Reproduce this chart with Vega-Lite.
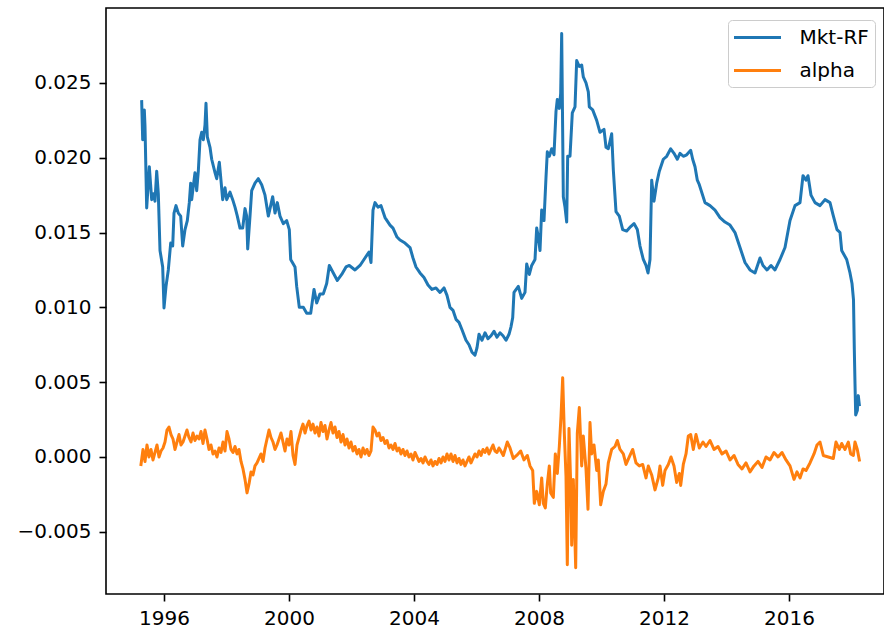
{
"$schema":"https://vega.github.io/schema/vega-lite/v6.json",
"width":778,"height":586,
"autosize":{"type":"none"},
"padding":{"left":106,"top":8,"right":0,"bottom":41},
"background":"white",
"config":{"view":{"stroke":"black","strokeWidth":1.6},"font":"DejaVu Sans"},
"data":{"values":[
{"date":1995.286,"value":0.02375,"series":"Mkt-RF"},
{"date":1995.318,"value":0.0212,"series":"Mkt-RF"},
{"date":1995.37,"value":0.0232,"series":"Mkt-RF"},
{"date":1995.392,"value":0.0221,"series":"Mkt-RF"},
{"date":1995.446,"value":0.01664,"series":"Mkt-RF"},
{"date":1995.53,"value":0.0194,"series":"Mkt-RF"},
{"date":1995.606,"value":0.0172,"series":"Mkt-RF"},
{"date":1995.658,"value":0.0176,"series":"Mkt-RF"},
{"date":1995.712,"value":0.0171,"series":"Mkt-RF"},
{"date":1995.766,"value":0.0191,"series":"Mkt-RF"},
{"date":1995.818,"value":0.0176,"series":"Mkt-RF"},
{"date":1995.872,"value":0.0138,"series":"Mkt-RF"},
{"date":1995.958,"value":0.0127,"series":"Mkt-RF"},
{"date":1996.0,"value":0.00996,"series":"Mkt-RF"},
{"date":1996.064,"value":0.0114,"series":"Mkt-RF"},
{"date":1996.138,"value":0.0125,"series":"Mkt-RF"},
{"date":1996.214,"value":0.0143,"series":"Mkt-RF"},
{"date":1996.278,"value":0.0141,"series":"Mkt-RF"},
{"date":1996.32,"value":0.0163,"series":"Mkt-RF"},
{"date":1996.384,"value":0.0168,"series":"Mkt-RF"},
{"date":1996.458,"value":0.0163,"series":"Mkt-RF"},
{"date":1996.534,"value":0.0161,"series":"Mkt-RF"},
{"date":1996.598,"value":0.0141,"series":"Mkt-RF"},
{"date":1996.672,"value":0.0152,"series":"Mkt-RF"},
{"date":1996.746,"value":0.0158,"series":"Mkt-RF"},
{"date":1996.81,"value":0.017,"series":"Mkt-RF"},
{"date":1996.854,"value":0.0183,"series":"Mkt-RF"},
{"date":1996.886,"value":0.0172,"series":"Mkt-RF"},
{"date":1996.938,"value":0.0181,"series":"Mkt-RF"},
{"date":1996.992,"value":0.019,"series":"Mkt-RF"},
{"date":1997.046,"value":0.0178,"series":"Mkt-RF"},
{"date":1997.098,"value":0.0191,"series":"Mkt-RF"},
{"date":1997.152,"value":0.0212,"series":"Mkt-RF"},
{"date":1997.206,"value":0.0217,"series":"Mkt-RF"},
{"date":1997.258,"value":0.0212,"series":"Mkt-RF"},
{"date":1997.312,"value":0.0222,"series":"Mkt-RF"},
{"date":1997.344,"value":0.02364,"series":"Mkt-RF"},
{"date":1997.386,"value":0.0214,"series":"Mkt-RF"},
{"date":1997.472,"value":0.0207,"series":"Mkt-RF"},
{"date":1997.526,"value":0.0199,"series":"Mkt-RF"},
{"date":1997.632,"value":0.019,"series":"Mkt-RF"},
{"date":1997.686,"value":0.0186,"series":"Mkt-RF"},
{"date":1997.77,"value":0.0197,"series":"Mkt-RF"},
{"date":1997.814,"value":0.0187,"series":"Mkt-RF"},
{"date":1997.878,"value":0.0172,"series":"Mkt-RF"},
{"date":1997.952,"value":0.018,"series":"Mkt-RF"},
{"date":1998.006,"value":0.0172,"series":"Mkt-RF"},
{"date":1998.112,"value":0.0177,"series":"Mkt-RF"},
{"date":1998.198,"value":0.0172,"series":"Mkt-RF"},
{"date":1998.272,"value":0.0167,"series":"Mkt-RF"},
{"date":1998.346,"value":0.0161,"series":"Mkt-RF"},
{"date":1998.432,"value":0.0153,"series":"Mkt-RF"},
{"date":1998.518,"value":0.0153,"series":"Mkt-RF"},
{"date":1998.592,"value":0.0166,"series":"Mkt-RF"},
{"date":1998.646,"value":0.0161,"series":"Mkt-RF"},
{"date":1998.678,"value":0.0139,"series":"Mkt-RF"},
{"date":1998.752,"value":0.0161,"series":"Mkt-RF"},
{"date":1998.806,"value":0.0178,"series":"Mkt-RF"},
{"date":1998.912,"value":0.0183,"series":"Mkt-RF"},
{"date":1999.018,"value":0.0186,"series":"Mkt-RF"},
{"date":1999.126,"value":0.0182,"series":"Mkt-RF"},
{"date":1999.232,"value":0.0175,"series":"Mkt-RF"},
{"date":1999.338,"value":0.0161,"series":"Mkt-RF"},
{"date":1999.392,"value":0.0166,"series":"Mkt-RF"},
{"date":1999.478,"value":0.0174,"series":"Mkt-RF"},
{"date":1999.552,"value":0.0163,"series":"Mkt-RF"},
{"date":1999.626,"value":0.017,"series":"Mkt-RF"},
{"date":1999.712,"value":0.0161,"series":"Mkt-RF"},
{"date":1999.818,"value":0.0156,"series":"Mkt-RF"},
{"date":1999.926,"value":0.0158,"series":"Mkt-RF"},
{"date":2000.01,"value":0.0152,"series":"Mkt-RF"},
{"date":2000.054,"value":0.0132,"series":"Mkt-RF"},
{"date":2000.192,"value":0.0127,"series":"Mkt-RF"},
{"date":2000.246,"value":0.0114,"series":"Mkt-RF"},
{"date":2000.33,"value":0.01,"series":"Mkt-RF"},
{"date":2000.458,"value":0.01,"series":"Mkt-RF"},
{"date":2000.566,"value":0.0096,"series":"Mkt-RF"},
{"date":2000.694,"value":0.0096,"series":"Mkt-RF"},
{"date":2000.8,"value":0.0112,"series":"Mkt-RF"},
{"date":2000.886,"value":0.0103,"series":"Mkt-RF"},
{"date":2000.992,"value":0.0109,"series":"Mkt-RF"},
{"date":2001.098,"value":0.0109,"series":"Mkt-RF"},
{"date":2001.206,"value":0.0116,"series":"Mkt-RF"},
{"date":2001.29,"value":0.0128,"series":"Mkt-RF"},
{"date":2001.418,"value":0.0123,"series":"Mkt-RF"},
{"date":2001.546,"value":0.0118,"series":"Mkt-RF"},
{"date":2001.686,"value":0.0122,"series":"Mkt-RF"},
{"date":2001.824,"value":0.0127,"series":"Mkt-RF"},
{"date":2001.93,"value":0.0128,"series":"Mkt-RF"},
{"date":2002.112,"value":0.0125,"series":"Mkt-RF"},
{"date":2002.272,"value":0.0128,"series":"Mkt-RF"},
{"date":2002.432,"value":0.0133,"series":"Mkt-RF"},
{"date":2002.56,"value":0.0137,"series":"Mkt-RF"},
{"date":2002.624,"value":0.013,"series":"Mkt-RF"},
{"date":2002.688,"value":0.0165,"series":"Mkt-RF"},
{"date":2002.752,"value":0.017,"series":"Mkt-RF"},
{"date":2002.848,"value":0.0167,"series":"Mkt-RF"},
{"date":2002.944,"value":0.0168,"series":"Mkt-RF"},
{"date":2003.072,"value":0.016,"series":"Mkt-RF"},
{"date":2003.232,"value":0.0155,"series":"Mkt-RF"},
{"date":2003.328,"value":0.0153,"series":"Mkt-RF"},
{"date":2003.456,"value":0.0147,"series":"Mkt-RF"},
{"date":2003.552,"value":0.0145,"series":"Mkt-RF"},
{"date":2003.712,"value":0.0143,"series":"Mkt-RF"},
{"date":2003.872,"value":0.014,"series":"Mkt-RF"},
{"date":2003.968,"value":0.0133,"series":"Mkt-RF"},
{"date":2004.064,"value":0.0127,"series":"Mkt-RF"},
{"date":2004.192,"value":0.0123,"series":"Mkt-RF"},
{"date":2004.32,"value":0.012,"series":"Mkt-RF"},
{"date":2004.448,"value":0.0115,"series":"Mkt-RF"},
{"date":2004.576,"value":0.0112,"series":"Mkt-RF"},
{"date":2004.704,"value":0.0113,"series":"Mkt-RF"},
{"date":2004.832,"value":0.011,"series":"Mkt-RF"},
{"date":2004.96,"value":0.0113,"series":"Mkt-RF"},
{"date":2005.056,"value":0.0108,"series":"Mkt-RF"},
{"date":2005.152,"value":0.01,"series":"Mkt-RF"},
{"date":2005.248,"value":0.0098,"series":"Mkt-RF"},
{"date":2005.344,"value":0.0092,"series":"Mkt-RF"},
{"date":2005.44,"value":0.009,"series":"Mkt-RF"},
{"date":2005.536,"value":0.0085,"series":"Mkt-RF"},
{"date":2005.664,"value":0.0078,"series":"Mkt-RF"},
{"date":2005.76,"value":0.0075,"series":"Mkt-RF"},
{"date":2005.856,"value":0.007,"series":"Mkt-RF"},
{"date":2005.952,"value":0.0068,"series":"Mkt-RF"},
{"date":2006.016,"value":0.0073,"series":"Mkt-RF"},
{"date":2006.08,"value":0.0082,"series":"Mkt-RF"},
{"date":2006.176,"value":0.0078,"series":"Mkt-RF"},
{"date":2006.272,"value":0.0083,"series":"Mkt-RF"},
{"date":2006.368,"value":0.0079,"series":"Mkt-RF"},
{"date":2006.464,"value":0.0081,"series":"Mkt-RF"},
{"date":2006.56,"value":0.0084,"series":"Mkt-RF"},
{"date":2006.656,"value":0.008,"series":"Mkt-RF"},
{"date":2006.752,"value":0.0083,"series":"Mkt-RF"},
{"date":2006.848,"value":0.0081,"series":"Mkt-RF"},
{"date":2006.944,"value":0.0078,"series":"Mkt-RF"},
{"date":2007.04,"value":0.0082,"series":"Mkt-RF"},
{"date":2007.104,"value":0.0087,"series":"Mkt-RF"},
{"date":2007.158,"value":0.0093,"series":"Mkt-RF"},
{"date":2007.2,"value":0.011,"series":"Mkt-RF"},
{"date":2007.338,"value":0.0114,"series":"Mkt-RF"},
{"date":2007.446,"value":0.0106,"series":"Mkt-RF"},
{"date":2007.552,"value":0.011,"series":"Mkt-RF"},
{"date":2007.606,"value":0.0129,"series":"Mkt-RF"},
{"date":2007.69,"value":0.0122,"series":"Mkt-RF"},
{"date":2007.766,"value":0.0128,"series":"Mkt-RF"},
{"date":2007.872,"value":0.0132,"series":"Mkt-RF"},
{"date":2007.926,"value":0.0153,"series":"Mkt-RF"},
{"date":2007.978,"value":0.0147,"series":"Mkt-RF"},
{"date":2008.032,"value":0.0138,"series":"Mkt-RF"},
{"date":2008.086,"value":0.0165,"series":"Mkt-RF"},
{"date":2008.16,"value":0.0158,"series":"Mkt-RF"},
{"date":2008.224,"value":0.0187,"series":"Mkt-RF"},
{"date":2008.266,"value":0.0204,"series":"Mkt-RF"},
{"date":2008.33,"value":0.0201,"series":"Mkt-RF"},
{"date":2008.406,"value":0.0206,"series":"Mkt-RF"},
{"date":2008.48,"value":0.0202,"series":"Mkt-RF"},
{"date":2008.544,"value":0.0231,"series":"Mkt-RF"},
{"date":2008.586,"value":0.0239,"series":"Mkt-RF"},
{"date":2008.65,"value":0.0233,"series":"Mkt-RF"},
{"date":2008.694,"value":0.0243,"series":"Mkt-RF"},
{"date":2008.726,"value":0.0283,"series":"Mkt-RF"},
{"date":2008.778,"value":0.0174,"series":"Mkt-RF"},
{"date":2008.832,"value":0.0167,"series":"Mkt-RF"},
{"date":2008.886,"value":0.0157,"series":"Mkt-RF"},
{"date":2008.918,"value":0.0201,"series":"Mkt-RF"},
{"date":2008.992,"value":0.0201,"series":"Mkt-RF"},
{"date":2009.066,"value":0.023,"series":"Mkt-RF"},
{"date":2009.152,"value":0.0234,"series":"Mkt-RF"},
{"date":2009.206,"value":0.0265,"series":"Mkt-RF"},
{"date":2009.29,"value":0.0261,"series":"Mkt-RF"},
{"date":2009.366,"value":0.0262,"series":"Mkt-RF"},
{"date":2009.418,"value":0.0254,"series":"Mkt-RF"},
{"date":2009.504,"value":0.025,"series":"Mkt-RF"},
{"date":2009.578,"value":0.0244,"series":"Mkt-RF"},
{"date":2009.61,"value":0.0234,"series":"Mkt-RF"},
{"date":2009.718,"value":0.0232,"series":"Mkt-RF"},
{"date":2009.846,"value":0.0225,"series":"Mkt-RF"},
{"date":2009.952,"value":0.0217,"series":"Mkt-RF"},
{"date":2010.08,"value":0.0219,"series":"Mkt-RF"},
{"date":2010.144,"value":0.0207,"series":"Mkt-RF"},
{"date":2010.218,"value":0.0206,"series":"Mkt-RF"},
{"date":2010.326,"value":0.0216,"series":"Mkt-RF"},
{"date":2010.378,"value":0.0192,"series":"Mkt-RF"},
{"date":2010.464,"value":0.0164,"series":"Mkt-RF"},
{"date":2010.57,"value":0.0161,"series":"Mkt-RF"},
{"date":2010.678,"value":0.0152,"series":"Mkt-RF"},
{"date":2010.806,"value":0.0151,"series":"Mkt-RF"},
{"date":2010.934,"value":0.0154,"series":"Mkt-RF"},
{"date":2011.04,"value":0.0156,"series":"Mkt-RF"},
{"date":2011.146,"value":0.0152,"series":"Mkt-RF"},
{"date":2011.232,"value":0.0141,"series":"Mkt-RF"},
{"date":2011.338,"value":0.0132,"series":"Mkt-RF"},
{"date":2011.424,"value":0.0128,"series":"Mkt-RF"},
{"date":2011.488,"value":0.0123,"series":"Mkt-RF"},
{"date":2011.552,"value":0.0132,"series":"Mkt-RF"},
{"date":2011.606,"value":0.0185,"series":"Mkt-RF"},
{"date":2011.68,"value":0.0171,"series":"Mkt-RF"},
{"date":2011.766,"value":0.0183,"series":"Mkt-RF"},
{"date":2011.85,"value":0.0191,"series":"Mkt-RF"},
{"date":2011.978,"value":0.0199,"series":"Mkt-RF"},
{"date":2012.086,"value":0.0201,"series":"Mkt-RF"},
{"date":2012.214,"value":0.0206,"series":"Mkt-RF"},
{"date":2012.32,"value":0.0203,"series":"Mkt-RF"},
{"date":2012.426,"value":0.0199,"series":"Mkt-RF"},
{"date":2012.512,"value":0.0203,"series":"Mkt-RF"},
{"date":2012.618,"value":0.0201,"series":"Mkt-RF"},
{"date":2012.726,"value":0.0202,"series":"Mkt-RF"},
{"date":2012.854,"value":0.0205,"series":"Mkt-RF"},
{"date":2012.918,"value":0.0199,"series":"Mkt-RF"},
{"date":2012.992,"value":0.0194,"series":"Mkt-RF"},
{"date":2013.066,"value":0.0185,"series":"Mkt-RF"},
{"date":2013.13,"value":0.0182,"series":"Mkt-RF"},
{"date":2013.312,"value":0.017,"series":"Mkt-RF"},
{"date":2013.472,"value":0.0168,"series":"Mkt-RF"},
{"date":2013.632,"value":0.0165,"series":"Mkt-RF"},
{"date":2013.792,"value":0.016,"series":"Mkt-RF"},
{"date":2013.952,"value":0.0157,"series":"Mkt-RF"},
{"date":2014.112,"value":0.0155,"series":"Mkt-RF"},
{"date":2014.272,"value":0.015,"series":"Mkt-RF"},
{"date":2014.432,"value":0.014,"series":"Mkt-RF"},
{"date":2014.592,"value":0.013,"series":"Mkt-RF"},
{"date":2014.752,"value":0.0125,"series":"Mkt-RF"},
{"date":2014.912,"value":0.0123,"series":"Mkt-RF"},
{"date":2015.072,"value":0.0133,"series":"Mkt-RF"},
{"date":2015.168,"value":0.0128,"series":"Mkt-RF"},
{"date":2015.296,"value":0.0125,"series":"Mkt-RF"},
{"date":2015.424,"value":0.0128,"series":"Mkt-RF"},
{"date":2015.552,"value":0.0125,"series":"Mkt-RF"},
{"date":2015.712,"value":0.0132,"series":"Mkt-RF"},
{"date":2015.872,"value":0.014,"series":"Mkt-RF"},
{"date":2016.032,"value":0.0158,"series":"Mkt-RF"},
{"date":2016.192,"value":0.0168,"series":"Mkt-RF"},
{"date":2016.352,"value":0.017,"series":"Mkt-RF"},
{"date":2016.448,"value":0.0188,"series":"Mkt-RF"},
{"date":2016.544,"value":0.0185,"series":"Mkt-RF"},
{"date":2016.608,"value":0.0188,"series":"Mkt-RF"},
{"date":2016.704,"value":0.0175,"series":"Mkt-RF"},
{"date":2016.832,"value":0.017,"series":"Mkt-RF"},
{"date":2016.992,"value":0.0168,"series":"Mkt-RF"},
{"date":2017.152,"value":0.0172,"series":"Mkt-RF"},
{"date":2017.312,"value":0.017,"series":"Mkt-RF"},
{"date":2017.408,"value":0.0162,"series":"Mkt-RF"},
{"date":2017.536,"value":0.0152,"series":"Mkt-RF"},
{"date":2017.632,"value":0.015,"series":"Mkt-RF"},
{"date":2017.686,"value":0.0138,"series":"Mkt-RF"},
{"date":2017.846,"value":0.0132,"series":"Mkt-RF"},
{"date":2017.952,"value":0.0123,"series":"Mkt-RF"},
{"date":2018.016,"value":0.0116,"series":"Mkt-RF"},
{"date":2018.064,"value":0.0105,"series":"Mkt-RF"},
{"date":2018.09,"value":0.0072,"series":"Mkt-RF"},
{"date":2018.112,"value":0.0049,"series":"Mkt-RF"},
{"date":2018.134,"value":0.0028,"series":"Mkt-RF"},
{"date":2018.186,"value":0.0031,"series":"Mkt-RF"},
{"date":2018.218,"value":0.0041,"series":"Mkt-RF"},
{"date":2018.25,"value":0.0035,"series":"Mkt-RF"},
{"date":1995.264,"value":-0.0005,"series":"alpha"},
{"date":1995.328,"value":0.0005,"series":"alpha"},
{"date":1995.392,"value":-0.0003,"series":"alpha"},
{"date":1995.456,"value":0.0008,"series":"alpha"},
{"date":1995.52,"value":0.0,"series":"alpha"},
{"date":1995.584,"value":0.0005,"series":"alpha"},
{"date":1995.648,"value":-0.0002,"series":"alpha"},
{"date":1995.712,"value":0.0003,"series":"alpha"},
{"date":1995.776,"value":0.0008,"series":"alpha"},
{"date":1995.84,"value":0.0,"series":"alpha"},
{"date":1995.904,"value":0.0004,"series":"alpha"},
{"date":1995.968,"value":0.0006,"series":"alpha"},
{"date":1996.032,"value":0.001,"series":"alpha"},
{"date":1996.096,"value":0.0018,"series":"alpha"},
{"date":1996.16,"value":0.002,"series":"alpha"},
{"date":1996.224,"value":0.0015,"series":"alpha"},
{"date":1996.288,"value":0.0012,"series":"alpha"},
{"date":1996.352,"value":0.0005,"series":"alpha"},
{"date":1996.416,"value":0.001,"series":"alpha"},
{"date":1996.48,"value":0.0015,"series":"alpha"},
{"date":1996.544,"value":0.0008,"series":"alpha"},
{"date":1996.608,"value":0.001,"series":"alpha"},
{"date":1996.672,"value":0.0014,"series":"alpha"},
{"date":1996.736,"value":0.0018,"series":"alpha"},
{"date":1996.8,"value":0.0013,"series":"alpha"},
{"date":1996.864,"value":0.001,"series":"alpha"},
{"date":1996.928,"value":0.0016,"series":"alpha"},
{"date":1996.992,"value":0.0011,"series":"alpha"},
{"date":1997.056,"value":0.0014,"series":"alpha"},
{"date":1997.12,"value":0.0012,"series":"alpha"},
{"date":1997.184,"value":0.0017,"series":"alpha"},
{"date":1997.248,"value":0.0009,"series":"alpha"},
{"date":1997.312,"value":0.0018,"series":"alpha"},
{"date":1997.376,"value":0.0012,"series":"alpha"},
{"date":1997.44,"value":0.0005,"series":"alpha"},
{"date":1997.504,"value":0.0008,"series":"alpha"},
{"date":1997.568,"value":0.0002,"series":"alpha"},
{"date":1997.632,"value":0.0004,"series":"alpha"},
{"date":1997.696,"value":0.0,"series":"alpha"},
{"date":1997.76,"value":0.0006,"series":"alpha"},
{"date":1997.824,"value":0.0003,"series":"alpha"},
{"date":1997.888,"value":0.001,"series":"alpha"},
{"date":1997.952,"value":0.0004,"series":"alpha"},
{"date":1998.016,"value":0.0017,"series":"alpha"},
{"date":1998.08,"value":0.0012,"series":"alpha"},
{"date":1998.144,"value":0.0005,"series":"alpha"},
{"date":1998.208,"value":0.0003,"series":"alpha"},
{"date":1998.272,"value":0.0007,"series":"alpha"},
{"date":1998.336,"value":0.0002,"series":"alpha"},
{"date":1998.4,"value":0.0005,"series":"alpha"},
{"date":1998.464,"value":-0.0003,"series":"alpha"},
{"date":1998.528,"value":-0.0008,"series":"alpha"},
{"date":1998.592,"value":-0.0015,"series":"alpha"},
{"date":1998.656,"value":-0.0024,"series":"alpha"},
{"date":1998.72,"value":-0.0018,"series":"alpha"},
{"date":1998.784,"value":-0.001,"series":"alpha"},
{"date":1998.848,"value":-0.0012,"series":"alpha"},
{"date":1998.912,"value":-0.0006,"series":"alpha"},
{"date":1998.976,"value":-0.0004,"series":"alpha"},
{"date":1999.04,"value":-0.0001,"series":"alpha"},
{"date":1999.104,"value":0.0002,"series":"alpha"},
{"date":1999.168,"value":-0.0003,"series":"alpha"},
{"date":1999.232,"value":0.0006,"series":"alpha"},
{"date":1999.296,"value":0.0012,"series":"alpha"},
{"date":1999.36,"value":0.0018,"series":"alpha"},
{"date":1999.424,"value":0.0013,"series":"alpha"},
{"date":1999.488,"value":0.001,"series":"alpha"},
{"date":1999.552,"value":0.0005,"series":"alpha"},
{"date":1999.616,"value":0.0008,"series":"alpha"},
{"date":1999.68,"value":0.0012,"series":"alpha"},
{"date":1999.744,"value":0.0016,"series":"alpha"},
{"date":1999.808,"value":0.001,"series":"alpha"},
{"date":1999.872,"value":0.0004,"series":"alpha"},
{"date":1999.936,"value":0.0012,"series":"alpha"},
{"date":2000.0,"value":0.0008,"series":"alpha"},
{"date":2000.064,"value":0.0017,"series":"alpha"},
{"date":2000.128,"value":0.0001,"series":"alpha"},
{"date":2000.192,"value":-0.0005,"series":"alpha"},
{"date":2000.256,"value":0.0008,"series":"alpha"},
{"date":2000.32,"value":0.0013,"series":"alpha"},
{"date":2000.384,"value":0.0018,"series":"alpha"},
{"date":2000.448,"value":0.0022,"series":"alpha"},
{"date":2000.512,"value":0.0016,"series":"alpha"},
{"date":2000.576,"value":0.0021,"series":"alpha"},
{"date":2000.64,"value":0.0024,"series":"alpha"},
{"date":2000.704,"value":0.0018,"series":"alpha"},
{"date":2000.768,"value":0.0022,"series":"alpha"},
{"date":2000.832,"value":0.0016,"series":"alpha"},
{"date":2000.896,"value":0.002,"series":"alpha"},
{"date":2000.96,"value":0.0014,"series":"alpha"},
{"date":2001.024,"value":0.0023,"series":"alpha"},
{"date":2001.088,"value":0.0017,"series":"alpha"},
{"date":2001.152,"value":0.0021,"series":"alpha"},
{"date":2001.216,"value":0.0012,"series":"alpha"},
{"date":2001.28,"value":0.0018,"series":"alpha"},
{"date":2001.344,"value":0.0023,"series":"alpha"},
{"date":2001.408,"value":0.0016,"series":"alpha"},
{"date":2001.472,"value":0.002,"series":"alpha"},
{"date":2001.536,"value":0.0013,"series":"alpha"},
{"date":2001.6,"value":0.0017,"series":"alpha"},
{"date":2001.664,"value":0.001,"series":"alpha"},
{"date":2001.728,"value":0.0015,"series":"alpha"},
{"date":2001.792,"value":0.0008,"series":"alpha"},
{"date":2001.856,"value":0.0012,"series":"alpha"},
{"date":2001.92,"value":0.0006,"series":"alpha"},
{"date":2001.984,"value":0.001,"series":"alpha"},
{"date":2002.048,"value":0.0004,"series":"alpha"},
{"date":2002.112,"value":0.0007,"series":"alpha"},
{"date":2002.176,"value":0.0002,"series":"alpha"},
{"date":2002.24,"value":0.0005,"series":"alpha"},
{"date":2002.304,"value":0.0,"series":"alpha"},
{"date":2002.368,"value":0.0006,"series":"alpha"},
{"date":2002.432,"value":0.0002,"series":"alpha"},
{"date":2002.496,"value":0.0005,"series":"alpha"},
{"date":2002.56,"value":0.0001,"series":"alpha"},
{"date":2002.624,"value":0.0004,"series":"alpha"},
{"date":2002.688,"value":0.002,"series":"alpha"},
{"date":2002.752,"value":0.0018,"series":"alpha"},
{"date":2002.816,"value":0.0014,"series":"alpha"},
{"date":2002.88,"value":0.0016,"series":"alpha"},
{"date":2002.944,"value":0.0011,"series":"alpha"},
{"date":2003.008,"value":0.0013,"series":"alpha"},
{"date":2003.072,"value":0.0009,"series":"alpha"},
{"date":2003.136,"value":0.0011,"series":"alpha"},
{"date":2003.2,"value":0.0006,"series":"alpha"},
{"date":2003.264,"value":0.0008,"series":"alpha"},
{"date":2003.328,"value":0.0005,"series":"alpha"},
{"date":2003.392,"value":0.0009,"series":"alpha"},
{"date":2003.456,"value":0.0004,"series":"alpha"},
{"date":2003.52,"value":0.0006,"series":"alpha"},
{"date":2003.584,"value":0.0002,"series":"alpha"},
{"date":2003.648,"value":0.0005,"series":"alpha"},
{"date":2003.712,"value":0.0001,"series":"alpha"},
{"date":2003.776,"value":0.0004,"series":"alpha"},
{"date":2003.84,"value":0.0,"series":"alpha"},
{"date":2003.904,"value":0.0002,"series":"alpha"},
{"date":2003.968,"value":-0.0002,"series":"alpha"},
{"date":2004.032,"value":0.0003,"series":"alpha"},
{"date":2004.096,"value":0.0,"series":"alpha"},
{"date":2004.16,"value":-0.0003,"series":"alpha"},
{"date":2004.224,"value":-0.0001,"series":"alpha"},
{"date":2004.288,"value":-0.0004,"series":"alpha"},
{"date":2004.352,"value":0.0,"series":"alpha"},
{"date":2004.416,"value":-0.0003,"series":"alpha"},
{"date":2004.48,"value":-0.0005,"series":"alpha"},
{"date":2004.544,"value":-0.0002,"series":"alpha"},
{"date":2004.608,"value":-0.0006,"series":"alpha"},
{"date":2004.672,"value":-0.0003,"series":"alpha"},
{"date":2004.736,"value":-0.0005,"series":"alpha"},
{"date":2004.8,"value":-0.0001,"series":"alpha"},
{"date":2004.864,"value":-0.0004,"series":"alpha"},
{"date":2004.928,"value":0.0,"series":"alpha"},
{"date":2004.992,"value":-0.0003,"series":"alpha"},
{"date":2005.056,"value":0.0002,"series":"alpha"},
{"date":2005.12,"value":-0.0002,"series":"alpha"},
{"date":2005.184,"value":0.0002,"series":"alpha"},
{"date":2005.248,"value":-0.0003,"series":"alpha"},
{"date":2005.312,"value":0.0001,"series":"alpha"},
{"date":2005.376,"value":-0.0004,"series":"alpha"},
{"date":2005.44,"value":-0.0001,"series":"alpha"},
{"date":2005.504,"value":-0.0005,"series":"alpha"},
{"date":2005.568,"value":-0.0002,"series":"alpha"},
{"date":2005.632,"value":-0.0006,"series":"alpha"},
{"date":2005.696,"value":-0.0003,"series":"alpha"},
{"date":2005.76,"value":0.0,"series":"alpha"},
{"date":2005.824,"value":-0.0004,"series":"alpha"},
{"date":2005.888,"value":-0.0001,"series":"alpha"},
{"date":2005.952,"value":0.0002,"series":"alpha"},
{"date":2006.016,"value":0.0,"series":"alpha"},
{"date":2006.08,"value":0.0004,"series":"alpha"},
{"date":2006.144,"value":0.0001,"series":"alpha"},
{"date":2006.208,"value":0.0005,"series":"alpha"},
{"date":2006.272,"value":0.0003,"series":"alpha"},
{"date":2006.336,"value":0.0006,"series":"alpha"},
{"date":2006.4,"value":0.0002,"series":"alpha"},
{"date":2006.464,"value":0.0005,"series":"alpha"},
{"date":2006.528,"value":0.0008,"series":"alpha"},
{"date":2006.592,"value":0.0004,"series":"alpha"},
{"date":2006.656,"value":0.0003,"series":"alpha"},
{"date":2006.72,"value":0.0006,"series":"alpha"},
{"date":2006.752,"value":0.0005,"series":"alpha"},
{"date":2006.858,"value":0.0001,"series":"alpha"},
{"date":2006.986,"value":0.001,"series":"alpha"},
{"date":2007.072,"value":0.0006,"series":"alpha"},
{"date":2007.178,"value":-0.0001,"series":"alpha"},
{"date":2007.286,"value":0.0001,"series":"alpha"},
{"date":2007.414,"value":0.0004,"series":"alpha"},
{"date":2007.52,"value":-0.0002,"series":"alpha"},
{"date":2007.626,"value":0.0001,"series":"alpha"},
{"date":2007.712,"value":-0.0006,"series":"alpha"},
{"date":2007.798,"value":-0.0009,"series":"alpha"},
{"date":2007.85,"value":-0.0031,"series":"alpha"},
{"date":2007.926,"value":-0.0023,"series":"alpha"},
{"date":2008.01,"value":-0.0032,"series":"alpha"},
{"date":2008.086,"value":-0.0014,"series":"alpha"},
{"date":2008.138,"value":-0.0031,"series":"alpha"},
{"date":2008.202,"value":-0.0034,"series":"alpha"},
{"date":2008.266,"value":-0.0018,"series":"alpha"},
{"date":2008.33,"value":-0.0006,"series":"alpha"},
{"date":2008.374,"value":-0.0024,"series":"alpha"},
{"date":2008.458,"value":-0.0027,"series":"alpha"},
{"date":2008.522,"value":0.0002,"series":"alpha"},
{"date":2008.586,"value":-0.0011,"series":"alpha"},
{"date":2008.65,"value":0.0007,"series":"alpha"},
{"date":2008.704,"value":0.0027,"series":"alpha"},
{"date":2008.758,"value":0.0053,"series":"alpha"},
{"date":2008.81,"value":0.0016,"series":"alpha"},
{"date":2008.864,"value":-0.0013,"series":"alpha"},
{"date":2008.906,"value":-0.0072,"series":"alpha"},
{"date":2008.96,"value":0.0019,"series":"alpha"},
{"date":2009.014,"value":-0.0018,"series":"alpha"},
{"date":2009.046,"value":-0.0059,"series":"alpha"},
{"date":2009.098,"value":-0.0015,"series":"alpha"},
{"date":2009.174,"value":-0.0074,"series":"alpha"},
{"date":2009.226,"value":0.0016,"series":"alpha"},
{"date":2009.29,"value":0.0033,"series":"alpha"},
{"date":2009.366,"value":-0.0006,"series":"alpha"},
{"date":2009.418,"value":0.0014,"series":"alpha"},
{"date":2009.504,"value":-0.0008,"series":"alpha"},
{"date":2009.568,"value":-0.0035,"series":"alpha"},
{"date":2009.632,"value":0.0023,"series":"alpha"},
{"date":2009.686,"value":0.0002,"series":"alpha"},
{"date":2009.76,"value":0.0008,"series":"alpha"},
{"date":2009.846,"value":-0.0009,"series":"alpha"},
{"date":2009.898,"value":-0.0002,"series":"alpha"},
{"date":2009.974,"value":-0.0032,"series":"alpha"},
{"date":2010.058,"value":-0.0023,"series":"alpha"},
{"date":2010.144,"value":-0.0018,"series":"alpha"},
{"date":2010.218,"value":-0.0004,"series":"alpha"},
{"date":2010.326,"value":0.0005,"series":"alpha"},
{"date":2010.432,"value":0.0007,"series":"alpha"},
{"date":2010.506,"value":0.0011,"series":"alpha"},
{"date":2010.592,"value":0.0005,"series":"alpha"},
{"date":2010.698,"value":0.0002,"series":"alpha"},
{"date":2010.784,"value":-0.0005,"series":"alpha"},
{"date":2010.89,"value":0.0,"series":"alpha"},
{"date":2010.998,"value":0.0005,"series":"alpha"},
{"date":2011.104,"value":-0.0004,"series":"alpha"},
{"date":2011.21,"value":-0.0006,"series":"alpha"},
{"date":2011.318,"value":-0.0005,"series":"alpha"},
{"date":2011.424,"value":-0.0014,"series":"alpha"},
{"date":2011.498,"value":-0.0006,"series":"alpha"},
{"date":2011.606,"value":-0.0012,"series":"alpha"},
{"date":2011.712,"value":-0.0022,"series":"alpha"},
{"date":2011.818,"value":-0.0014,"series":"alpha"},
{"date":2011.872,"value":-0.0006,"series":"alpha"},
{"date":2011.958,"value":-0.0019,"series":"alpha"},
{"date":2012.032,"value":-0.0009,"series":"alpha"},
{"date":2012.138,"value":-0.0005,"series":"alpha"},
{"date":2012.224,"value":0.0,"series":"alpha"},
{"date":2012.32,"value":-0.0006,"series":"alpha"},
{"date":2012.406,"value":-0.0017,"series":"alpha"},
{"date":2012.49,"value":-0.0011,"series":"alpha"},
{"date":2012.534,"value":-0.0019,"series":"alpha"},
{"date":2012.618,"value":-0.0005,"series":"alpha"},
{"date":2012.704,"value":0.0002,"series":"alpha"},
{"date":2012.778,"value":0.0014,"series":"alpha"},
{"date":2012.854,"value":0.0015,"series":"alpha"},
{"date":2012.938,"value":0.0005,"series":"alpha"},
{"date":2013.024,"value":0.0015,"series":"alpha"},
{"date":2013.13,"value":0.0006,"series":"alpha"},
{"date":2013.248,"value":0.001,"series":"alpha"},
{"date":2013.344,"value":0.0007,"series":"alpha"},
{"date":2013.472,"value":0.0011,"series":"alpha"},
{"date":2013.6,"value":0.0005,"series":"alpha"},
{"date":2013.728,"value":0.0007,"series":"alpha"},
{"date":2013.856,"value":0.0002,"series":"alpha"},
{"date":2013.984,"value":0.0004,"series":"alpha"},
{"date":2014.112,"value":-0.0002,"series":"alpha"},
{"date":2014.24,"value":0.0001,"series":"alpha"},
{"date":2014.368,"value":-0.0005,"series":"alpha"},
{"date":2014.496,"value":-0.0008,"series":"alpha"},
{"date":2014.624,"value":-0.0004,"series":"alpha"},
{"date":2014.752,"value":-0.001,"series":"alpha"},
{"date":2014.88,"value":-0.0006,"series":"alpha"},
{"date":2015.008,"value":-0.0003,"series":"alpha"},
{"date":2015.136,"value":-0.0007,"series":"alpha"},
{"date":2015.264,"value":0.0,"series":"alpha"},
{"date":2015.392,"value":-0.0002,"series":"alpha"},
{"date":2015.52,"value":0.0003,"series":"alpha"},
{"date":2015.648,"value":0.0,"series":"alpha"},
{"date":2015.776,"value":0.0003,"series":"alpha"},
{"date":2015.904,"value":-0.0002,"series":"alpha"},
{"date":2016.032,"value":-0.0006,"series":"alpha"},
{"date":2016.16,"value":-0.0015,"series":"alpha"},
{"date":2016.256,"value":-0.001,"series":"alpha"},
{"date":2016.352,"value":-0.0014,"series":"alpha"},
{"date":2016.448,"value":-0.0008,"series":"alpha"},
{"date":2016.544,"value":-0.0009,"series":"alpha"},
{"date":2016.672,"value":-0.0004,"series":"alpha"},
{"date":2016.8,"value":0.0002,"series":"alpha"},
{"date":2016.896,"value":0.0008,"series":"alpha"},
{"date":2016.992,"value":0.001,"series":"alpha"},
{"date":2017.098,"value":0.0001,"series":"alpha"},
{"date":2017.258,"value":0.0,"series":"alpha"},
{"date":2017.418,"value":-0.0001,"series":"alpha"},
{"date":2017.504,"value":0.001,"series":"alpha"},
{"date":2017.61,"value":0.0005,"series":"alpha"},
{"date":2017.686,"value":0.0009,"series":"alpha"},
{"date":2017.792,"value":0.0005,"series":"alpha"},
{"date":2017.898,"value":0.001,"series":"alpha"},
{"date":2017.974,"value":0.0002,"series":"alpha"},
{"date":2018.058,"value":0.0001,"series":"alpha"},
{"date":2018.112,"value":0.001,"series":"alpha"},
{"date":2018.186,"value":0.0005,"series":"alpha"},
{"date":2018.25,"value":-0.0002,"series":"alpha"}
]},
"mark":{"type":"line","strokeWidth":3,"strokeJoin":"round","strokeCap":"square","clip":true},
"encoding":{
"x":{"field":"date","type":"quantitative","scale":{"domain":[1994.144,2019.04],"nice":false,"zero":false},
"axis":{"values":[1996,2000,2004,2008,2012,2016],"format":"d","title":null,"grid":false,"domain":false,"tickColor":"black","tickWidth":1.6,"tickSize":7,"labelPadding":7,"labelFont":"DejaVu Sans","labelFontSize":20,"labelColor":"black"}},
"y":{"field":"value","type":"quantitative","scale":{"domain":[-0.00916,0.03001],"nice":false,"zero":false},
"axis":{"values":[-0.005,0,0.005,0.01,0.015,0.02,0.025],"format":".3f","title":null,"grid":false,"domain":false,"tickColor":"black","tickWidth":1.6,"tickSize":7,"labelPadding":8,"labelFont":"DejaVu Sans","labelFontSize":20,"labelColor":"black"}},
"color":{"field":"series","type":"nominal","scale":{"domain":["Mkt-RF","alpha"],"range":["#1f77b4","#ff7f0e"]},
"legend":{"title":null,"orient":"none","legendX":622,"legendY":12,"padding":6,"strokeColor":"#cccccc","fillColor":"white","cornerRadius":4,"symbolType":"M-2.35,0H2.35","symbolSize":400,"symbolOffset":12,"symbolStrokeWidth":3,"labelFont":"DejaVu Sans","labelFontSize":20,"labelColor":"black","labelOffset":30.5,"rowPadding":11}}
}
}
